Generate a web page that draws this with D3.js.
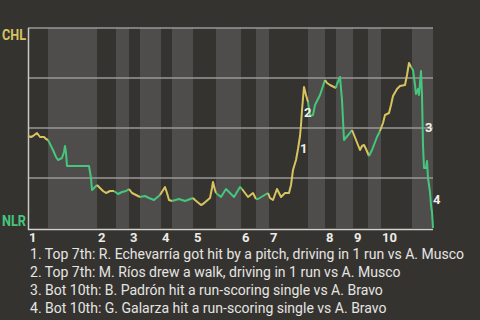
<!DOCTYPE html>
<html>
<head>
<meta charset="utf-8">
<script src="https://cdn.jsdelivr.net/npm/d3@7"></script>
<style>
  html, body { margin: 0; padding: 0; background: #353330; overflow: hidden; }
  svg { display: block; }
</style>
</head>
<body>
<div id="chart"></div>
<script>
// win probability for CHL (1 = CHL wins), x = play index through the game
const plays = [0, 0.6, 1.0, 1.8, 2.4, 3.2, 3.6, 4.0, 4.4, 5.0, 5.6, 6.0, 6.8, 7.2, 7.4, 7.6, 7.8, 12.2, 12.4, 12.6, 12.8,
  13.4, 13.8, 14.4, 15.0, 15.6, 16.4, 17.2, 18.0, 18.8, 19.6, 20.2, 20.8, 21.6, 22.4, 23.4, 24.2, 25.2, 26.4, 27.4, 27.8,
  28.2, 28.8, 30.2, 31.4, 33.0, 33.4, 34.6, 35.0, 36.4, 36.8, 37.0, 37.4, 37.6, 38.6, 39.6, 41.2, 42.4, 42.8, 44.0, 45.0,
  45.6, 46.0, 48.0, 48.4, 49.0, 49.8, 50.6, 51.4, 52.2, 52.6, 53.0, 53.6, 54.0, 54.4, 54.6, 54.8, 55.2, 55.6, 56.0, 56.4,
  57.0, 57.4, 58.4, 59.0, 59.4, 59.8, 60.4, 61.6, 61.8, 62.4, 62.8, 63.2, 64.2, 64.8, 65.2, 66.0, 66.4, 66.8, 67.2, 67.6,
  68.2, 68.8, 69.8, 70.4, 71.0, 71.4, 72.2, 72.6, 73.0, 73.8, 74.4, 75.4, 75.8, 76.2, 76.6, 77.0, 77.4, 77.6, 78.0, 78.2,
  78.6, 78.8, 79.0, 79.2, 79.6, 79.8, 80.0, 80.4, 80.6, 80.8, 81.0];
const winProb = [0.46, 0.455, 0.46, 0.475, 0.455, 0.455, 0.445, 0.44, 0.42, 0.39, 0.355, 0.34, 0.35, 0.38, 0.41, 0.375, 0.31, 0.31, 0.28, 0.25, 0.19,
  0.205, 0.215, 0.2, 0.185, 0.175, 0.185, 0.185, 0.17, 0.18, 0.185, 0.195, 0.175, 0.165, 0.155, 0.16, 0.15, 0.14, 0.165, 0.205, 0.175,
  0.14, 0.135, 0.145, 0.135, 0.15, 0.14, 0.115, 0.12, 0.15, 0.2, 0.23, 0.19, 0.175, 0.155, 0.195, 0.155, 0.205, 0.195, 0.155, 0.175,
  0.145, 0.145, 0.175, 0.15, 0.14, 0.195, 0.155, 0.175, 0.175, 0.215, 0.29, 0.34, 0.395, 0.46, 0.515, 0.59, 0.705, 0.665, 0.63, 0.56,
  0.565, 0.615, 0.665, 0.71, 0.74, 0.725, 0.715, 0.7, 0.72, 0.755, 0.64, 0.44, 0.47, 0.49, 0.465, 0.415, 0.39, 0.41, 0.415, 0.395,
  0.36, 0.39, 0.455, 0.485, 0.525, 0.565, 0.575, 0.615, 0.66, 0.695, 0.71, 0.715, 0.765, 0.825, 0.805, 0.79, 0.715, 0.67, 0.695, 0.665,
  0.785, 0.665, 0.415, 0.3, 0.3, 0.335, 0.25, 0.18, 0.115, 0.08, 0.0];

// start of each half inning (top 1, bot 1, top 2, ...) in play index, last value = end of game
const halfStarts = [0, 4, 13.8, 17.6, 20.2, 22.4, 26.6, 28.8, 33, 37.6, 42.6, 45.6, 48.2, 56, 59.4, 61.6, 65, 68, 70.6, 76.8, 81];
const innings = ["1", "2", "3", "4", "5", "6", "7", "8", "9", "10"];
const gridValues = [0.25, 0.5, 0.75, 1];

const teams = ["CHL", "NLR"];
const teamColors = ["#d8c45e", "#46c67c"];

const markers = ["1", "2", "3", "4"];
const markerPlay = [54.4, 55.2, 79.4, 81.0];
const markerProb = [0.375, 0.555, 0.48, 0.12];
const notes = [
  "1. Top 7th: R. Echevarría got hit by a pitch, driving in 1 run vs A. Musco",
  "2. Top 7th: M. Ríos drew a walk, driving in 1 run vs A. Musco",
  "3. Bot 10th: B. Padrón hit a run-scoring single vs A. Bravo",
  "4. Bot 10th: G. Galarza hit a run-scoring single vs A. Bravo"
];

const W = 480, H = 320;
const margin = { top: 28, right: 47, bottom: 92, left: 28 };
const width = W - margin.left - margin.right;
const height = H - margin.top - margin.bottom;
const font = "Roboto, 'Noto Sans', sans-serif";

const svg = d3.select("#chart").append("svg")
  .attr("width", W)
  .attr("height", H);

const g = svg.append("g")
  .attr("transform", `translate(${margin.left},${margin.top})`);

const x = d3.scaleLinear().domain([0, d3.max(halfStarts)]).range([0, width]);
const y = d3.scaleLinear().domain([0, 1]).range([height, 0]);

// half inning bands, bottom halves shaded
const halves = d3.range(halfStarts.length - 1).map(i => ({ i, a: halfStarts[i], b: halfStarts[i + 1] }));
g.selectAll(".band")
  .data(halves.filter(d => d.i % 2 === 1))
  .enter().append("rect")
  .attr("x", d => x(d.a))
  .attr("y", 0)
  .attr("width", d => x(d.b) - x(d.a))
  .attr("height", height)
  .attr("fill", "#4e4d4b");

// grid lines
g.selectAll(".grid")
  .data(gridValues)
  .enter().append("line")
  .attr("x1", 0).attr("x2", width)
  .attr("y1", d => y(d)).attr("y2", d => y(d))
  .attr("stroke", "#9a9996")
  .attr("stroke-width", 1.5);

// axes lines
g.append("line")
  .attr("x1", 0.5).attr("x2", 0.5)
  .attr("y1", 0).attr("y2", height + 2)
  .attr("stroke", "#c8c8c4").attr("stroke-width", 1.5);
g.append("line")
  .attr("x1", 0).attr("x2", width)
  .attr("y1", height + 1.5).attr("y2", height + 1.5)
  .attr("stroke", "#d0d0cc").attr("stroke-width", 1.5);

// inning labels at start of each top half
g.selectAll(".inning")
  .data(innings)
  .enter().append("text")
  .attr("x", (d, i) => x(halfStarts[i * 2]) + 1)
  .attr("y", height + 14)
  .attr("fill", "#ecebe8")
  .attr("font-family", font)
  .attr("font-weight", "bold")
  .attr("font-size", 13)
  .text(d => d);

// team labels
svg.selectAll(".team")
  .data(teams)
  .enter().append("text")
  .attr("x", 2)
  .attr("y", (d, i) => i === 0 ? margin.top + 12 : margin.top + height - 2)
  .attr("fill", (d, i) => teamColors[i])
  .attr("font-family", font).attr("font-weight", "bold").attr("font-size", 14)
  .attr("textLength", 24)
  .attr("lengthAdjust", "spacingAndGlyphs")
  .text(d => d);

// line split into runs by half inning (top = CHL batting, bottom = NLR batting)
const pts = plays.map((p, i) => ({ p, v: winProb[i] }));
const halfOf = v => {
  let k = 0;
  while (k < halfStarts.length - 2 && v >= halfStarts[k + 1]) k++;
  return k;
};
const runs = [];
for (let i = 0; i < pts.length - 1; i++) {
  const side = halfOf((pts[i].p + pts[i + 1].p) / 2) % 2;
  const last = runs[runs.length - 1];
  if (last && last.side === side) last.pts.push(pts[i + 1]);
  else runs.push({ side, pts: [pts[i], pts[i + 1]] });
}
const line = d3.line().x(d => x(d.p)).y(d => y(d.v));
g.selectAll(".wp")
  .data(runs)
  .enter().append("path")
  .attr("d", d => line(d.pts))
  .attr("fill", "none")
  .attr("stroke", d => teamColors[d.side])
  .attr("stroke-width", 2)
  .attr("stroke-linejoin", "round");

// event markers
g.selectAll(".marker")
  .data(markers)
  .enter().append("text")
  .attr("x", (d, i) => x(markerPlay[i]))
  .attr("y", (d, i) => y(markerProb[i]))
  .attr("fill", "#f0efec")
  .attr("font-family", font).attr("font-weight", "bold").attr("font-size", 13)
  .text(d => d);

// notes
const noteText = svg.selectAll(".note")
  .data(notes)
  .enter().append("text")
  .attr("x", 30)
  .attr("y", (d, i) => 259 + i * 18)
  .attr("fill", "#e6e5e2")
  .attr("font-family", font)
  .attr("font-size", 14)
  .text(d => d);
const widths = noteText.nodes().map(n => n.getComputedTextLength());
const k = 434 / widths[0];
noteText
  .attr("textLength", (d, i) => widths[i] * k)
  .attr("lengthAdjust", "spacingAndGlyphs");
</script>
</body>
</html>
